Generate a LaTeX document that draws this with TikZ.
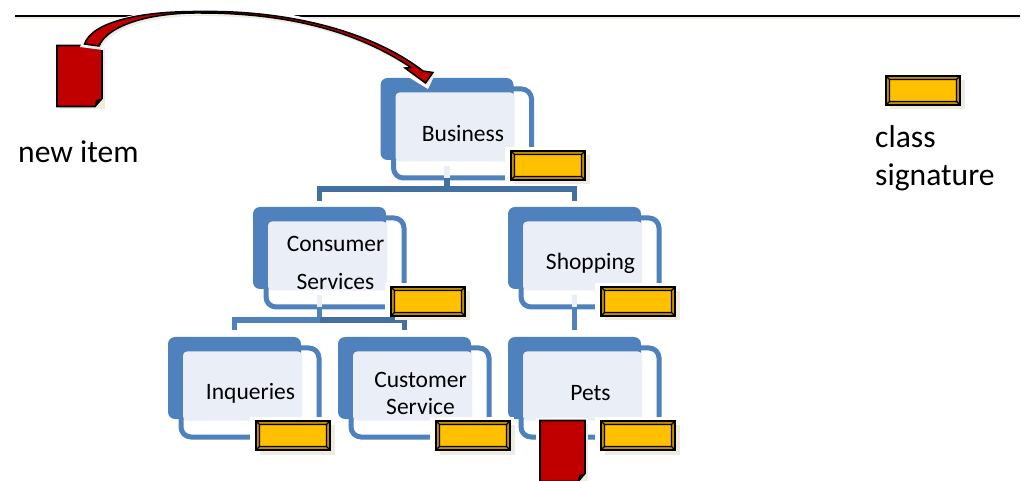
\documentclass[tikz,border=0pt]{standalone}
\usepackage{fontspec}
\setmainfont{Carlito}
\definecolor{orgblue}{HTML}{4F81BD}
\definecolor{orglight}{HTML}{E9EEF7}
\definecolor{conndark}{HTML}{44709F}
\definecolor{tagyellow}{HTML}{FFC000}
\definecolor{taggold}{HTML}{BF9000}
\definecolor{cream}{HTML}{EEECE1}
\definecolor{itemred}{HTML}{C00000}
\tikzset{
  x=1pt,y=-1pt,
  bluebox/.style={fill=orgblue,rounded corners=7pt,minimum width=133pt,minimum height=82pt,anchor=north west,inner sep=0pt,outer sep=0pt},
  lightbox/.style={fill=orglight,rounded corners=4pt,minimum width=119pt,minimum height=69pt,anchor=north west,inner sep=0pt,outer sep=0pt},
  boxtext/.style={align=center,inner sep=0pt,font=\fontsize{23.5}{38}\selectfont},
  ring/.style={draw=orgblue,line width=5pt,rounded corners=10pt},
  conn/.style={draw=conndark,line width=5.5pt},
  stemlight/.style={draw=orglight,line width=5.5pt},
  labeltext/.style={anchor=north west,inner sep=0pt,align=left,font=\fontsize{31.6}{38}\selectfont},
  tagbody/.style={fill=tagyellow,minimum width=74pt,minimum height=29pt,anchor=north west,inner sep=0pt,outer sep=0pt},
}
% org box: name, x, y, text
\newcommand{\orgbox}[4]{%
  \draw[ring] (#2+105,#3+11) -- (#2+151,#3+11) -- (#2+151,#3+100) -- (#2+13,#3+100) -- (#2+13,#3+60);
  \node[bluebox] (#1) at (#2,#3) {};
  \node[lightbox] (#1l) at (#2+15,#3+14.5) {};
  \node[boxtext] (#1t) at (#2+82.5,#3+56) {#4};
}
% signature tag: name, x, y
\newcommand{\sigtag}[3]{%
  \fill[white] (#2-6,#3-4) rectangle (#2+78,#3+30);
  \fill[cream] (#2+4,#3+4) rectangle (#2+78.5,#3+33.5);
  \node[tagbody] (#1) at (#2,#3) {};
  \fill[taggold,even odd rule] (#2,#3) rectangle (#2+74,#3+29) (#2+3.5,#3+3.5) rectangle (#2+70.5,#3+25.5);
  \draw[black,line width=1.4pt] (#2+3.5,#3+3.5) rectangle (#2+70.5,#3+25.5)
     (#2,#3) -- (#2+3.5,#3+3.5) (#2+74,#3) -- (#2+70.5,#3+3.5) (#2,#3+29) -- (#2+3.5,#3+25.5) (#2+74,#3+29) -- (#2+70.5,#3+25.5);
  \draw[black,line width=2.5pt] (#2,#3) rectangle (#2+74,#3+29);
}
% document item: name, x, y
\newcommand{\redpage}[3]{%
  \fill[white] (#2-4,#3-3) rectangle (#2+48,#3+63);
  \fill[cream] (#2+3,#3+3) rectangle (#2+48,#3+64);
  \node[anchor=north west,minimum width=45pt,minimum height=61pt,inner sep=0pt,outer sep=0pt] (#1) at (#2,#3) {};
  \draw[black,line width=1.6pt,fill=itemred,line join=miter] (#2,#3) -- (#2+45,#3) -- (#2+45,#3+53) -- (#2+38,#3+61) -- (#2,#3+61) -- cycle;
  \fill[black] (#2+45,#3+53) -- (#2+38,#3+61) -- (#2+39,#3+54.5) -- cycle;
}
% outline of the curved arrow, reused for its shadow
\newcommand{\arrowpath}{(84.5,44) .. controls (92,22) and (140,11) .. (200,11.5)
  .. controls (285,10) and (370,30) .. (423,71)
  -- (433,72.5) -- (425.5,83) -- (405,68) -- (411,67.5)
  .. controls (355,30) and (285,13) .. (200,13)
  .. controls (150,12.5) and (108,25) .. (99,46) -- cycle}
\begin{document}
\begin{tikzpicture}
\useasboundingbox (0,0) rectangle (1021,481);
\fill[white] (0,0) rectangle (1021,481);
% top rule
\coordinate (ruleL) at (15,16);
\coordinate (ruleR) at (1020,16);
\draw[cream,line width=2pt] (15,18.5) -- (1020,18.5);
\draw[black,line width=2pt] (ruleL) -- (ruleR);

\orgbox{bus}{380.5}{78}{Business}
\orgbox{cs}{253}{207}{Consumer\\Services}
\orgbox{shop}{508}{207}{Shopping}
\orgbox{inq}{168}{337}{Inqueries}
\orgbox{cust}{338}{337}{Customer\\[-11pt]Service}
\orgbox{pets}{508}{337}{Pets}

% connectors
\draw[stemlight,shorten <=6pt] (bus.south) -- ++(0,18);
\draw[stemlight,shorten <=6pt] (cs.south) -- ++(0,18);
\draw[conn,shorten >=6pt] (bus.south) ++(0,18) -- ++(0,11) -| (cs.north);
\draw[conn,shorten >=6pt] (bus.south) ++(0,29) -| (shop.north);
\draw[conn,draw=orgblue,shorten >=7pt] (cs.south) ++(0,18) -- ++(0,13) -| (inq.north);
\draw[conn,shorten >=7pt] (cs.south) ++(0,31) -| (cust.north);
\draw[stemlight,shorten <=6pt] (shop.south) -- ++(0,18);
\draw[conn,draw=orgblue,shorten >=7pt] (shop.south) ++(0,18) -- (pets.north);

\sigtag{t1}{511}{151}
\sigtag{t2}{391}{287}
\sigtag{t3}{601}{287}
\sigtag{t4}{256}{421}
\sigtag{t5}{436}{421}
\sigtag{t6}{601}{421}
\sigtag{t7}{886}{76}

% items
\redpage{newdoc}{57}{45.5}
\redpage{petdoc}{540}{420.5}

% curved block arrow: white glow, shadow, body
\path[fill=white] (80,47) .. controls (90,12) and (180,5) .. (250,9) .. controls (330,15) and (395,50) .. (436,72) -- (428,89) -- (400,72) .. controls (330,35) and (260,21) .. (200,22) .. controls (150,21) and (112,30) .. (103,50) -- cycle;
\draw[black!75,line width=1pt] (190,16) -- (232,16);
\fill[cream,shift={(2,3)}] \arrowpath;
\draw[black,line width=1.5pt,fill=itemred,line join=miter] \arrowpath;

% labels
\node[labeltext] (newitem) at (18,141) {new item};
\node[labeltext] (classsig) at (875,125) {class\\signature};
\end{tikzpicture}
\end{document}
